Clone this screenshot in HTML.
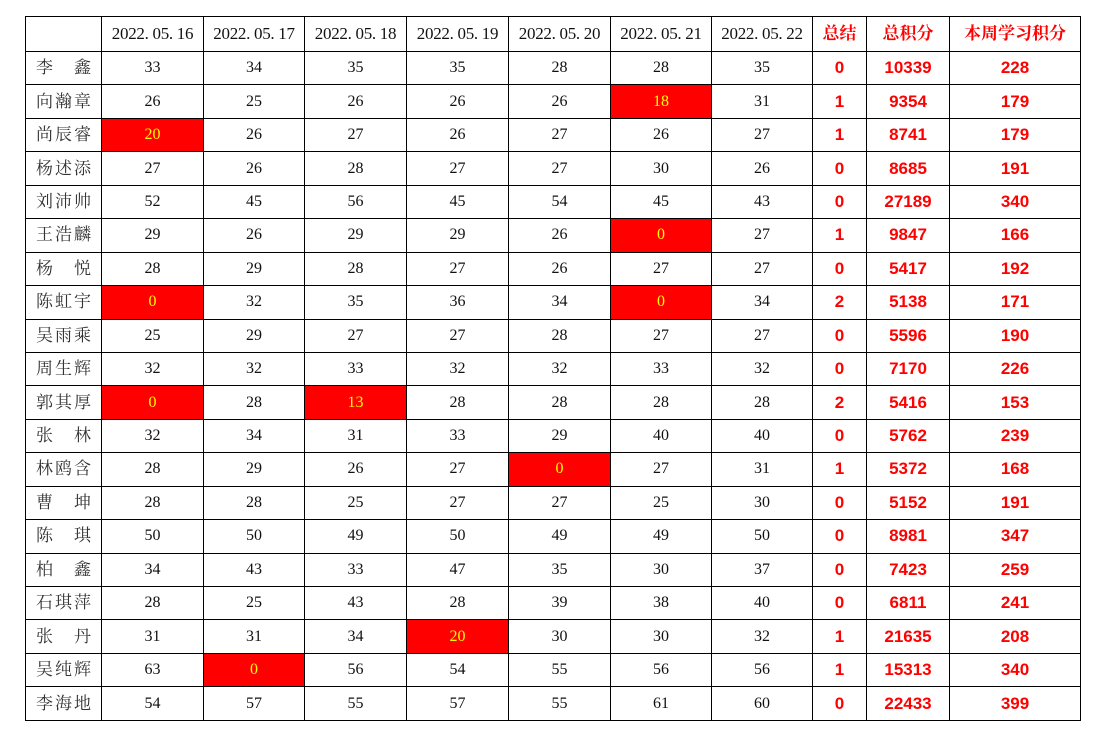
<!DOCTYPE html>
<html><head><meta charset="utf-8"><style>
html,body{margin:0;padding:0;background:#fff;width:1104px;height:738px;overflow:hidden}
table{position:absolute;left:25px;top:16px;border-collapse:collapse;table-layout:fixed;width:1055px}
tr{height:33.45px}
tr.h{height:35px}
td{border:1.5px solid #000;padding:0;text-align:center;font-family:"Liberation Serif","Noto Serif CJK SC",serif;font-size:16px;line-height:18px;color:#111;white-space:nowrap;overflow:hidden}
tr.h td.d{font-size:17px;letter-spacing:-0.3px}
td.n{font-family:"Liberation Serif","Noto Serif CJK SC",serif;font-size:17px;line-height:17px;color:#333;text-align:justify;text-align-last:justify;padding:0 10px 1px 10px}
td.r{color:#f00;font-weight:bold;font-family:"Liberation Sans",sans-serif;font-size:17px}
tr.h td.r{font-family:"Liberation Serif","Noto Serif CJK SC",serif;font-size:17px;line-height:17px;padding-bottom:2px}
td.x{background:#f00;color:#ff0}
</style></head><body>
<table>
<colgroup><col style="width:76px"><col style="width:102px"><col style="width:101px"><col style="width:102px"><col style="width:102px"><col style="width:102px"><col style="width:101px"><col style="width:101px"><col style="width:54px"><col style="width:83px"><col style="width:131px"></colgroup>
<tr class="h"><td></td><td class="d">2022. 05. 16</td><td class="d">2022. 05. 17</td><td class="d">2022. 05. 18</td><td class="d">2022. 05. 19</td><td class="d">2022. 05. 20</td><td class="d">2022. 05. 21</td><td class="d">2022. 05. 22</td><td class="r">总结</td><td class="r">总积分</td><td class="r">本周学习积分</td></tr>
<tr><td class="n">李 鑫</td><td>33</td><td>34</td><td>35</td><td>35</td><td>28</td><td>28</td><td>35</td><td class="r">0</td><td class="r">10339</td><td class="r">228</td></tr>
<tr><td class="n">向瀚章</td><td>26</td><td>25</td><td>26</td><td>26</td><td>26</td><td class="x">18</td><td>31</td><td class="r">1</td><td class="r">9354</td><td class="r">179</td></tr>
<tr><td class="n">尚辰睿</td><td class="x">20</td><td>26</td><td>27</td><td>26</td><td>27</td><td>26</td><td>27</td><td class="r">1</td><td class="r">8741</td><td class="r">179</td></tr>
<tr><td class="n">杨述添</td><td>27</td><td>26</td><td>28</td><td>27</td><td>27</td><td>30</td><td>26</td><td class="r">0</td><td class="r">8685</td><td class="r">191</td></tr>
<tr><td class="n">刘沛帅</td><td>52</td><td>45</td><td>56</td><td>45</td><td>54</td><td>45</td><td>43</td><td class="r">0</td><td class="r">27189</td><td class="r">340</td></tr>
<tr><td class="n">王浩麟</td><td>29</td><td>26</td><td>29</td><td>29</td><td>26</td><td class="x">0</td><td>27</td><td class="r">1</td><td class="r">9847</td><td class="r">166</td></tr>
<tr><td class="n">杨 悦</td><td>28</td><td>29</td><td>28</td><td>27</td><td>26</td><td>27</td><td>27</td><td class="r">0</td><td class="r">5417</td><td class="r">192</td></tr>
<tr><td class="n">陈虹宇</td><td class="x">0</td><td>32</td><td>35</td><td>36</td><td>34</td><td class="x">0</td><td>34</td><td class="r">2</td><td class="r">5138</td><td class="r">171</td></tr>
<tr><td class="n">吴雨乘</td><td>25</td><td>29</td><td>27</td><td>27</td><td>28</td><td>27</td><td>27</td><td class="r">0</td><td class="r">5596</td><td class="r">190</td></tr>
<tr><td class="n">周生辉</td><td>32</td><td>32</td><td>33</td><td>32</td><td>32</td><td>33</td><td>32</td><td class="r">0</td><td class="r">7170</td><td class="r">226</td></tr>
<tr><td class="n">郭其厚</td><td class="x">0</td><td>28</td><td class="x">13</td><td>28</td><td>28</td><td>28</td><td>28</td><td class="r">2</td><td class="r">5416</td><td class="r">153</td></tr>
<tr><td class="n">张 林</td><td>32</td><td>34</td><td>31</td><td>33</td><td>29</td><td>40</td><td>40</td><td class="r">0</td><td class="r">5762</td><td class="r">239</td></tr>
<tr><td class="n">林鸥含</td><td>28</td><td>29</td><td>26</td><td>27</td><td class="x">0</td><td>27</td><td>31</td><td class="r">1</td><td class="r">5372</td><td class="r">168</td></tr>
<tr><td class="n">曹 坤</td><td>28</td><td>28</td><td>25</td><td>27</td><td>27</td><td>25</td><td>30</td><td class="r">0</td><td class="r">5152</td><td class="r">191</td></tr>
<tr><td class="n">陈 琪</td><td>50</td><td>50</td><td>49</td><td>50</td><td>49</td><td>49</td><td>50</td><td class="r">0</td><td class="r">8981</td><td class="r">347</td></tr>
<tr><td class="n">柏 鑫</td><td>34</td><td>43</td><td>33</td><td>47</td><td>35</td><td>30</td><td>37</td><td class="r">0</td><td class="r">7423</td><td class="r">259</td></tr>
<tr><td class="n">石琪萍</td><td>28</td><td>25</td><td>43</td><td>28</td><td>39</td><td>38</td><td>40</td><td class="r">0</td><td class="r">6811</td><td class="r">241</td></tr>
<tr><td class="n">张 丹</td><td>31</td><td>31</td><td>34</td><td class="x">20</td><td>30</td><td>30</td><td>32</td><td class="r">1</td><td class="r">21635</td><td class="r">208</td></tr>
<tr><td class="n">吴纯辉</td><td>63</td><td class="x">0</td><td>56</td><td>54</td><td>55</td><td>56</td><td>56</td><td class="r">1</td><td class="r">15313</td><td class="r">340</td></tr>
<tr><td class="n">李海地</td><td>54</td><td>57</td><td>55</td><td>57</td><td>55</td><td>61</td><td>60</td><td class="r">0</td><td class="r">22433</td><td class="r">399</td></tr>
</table>
</body></html>
